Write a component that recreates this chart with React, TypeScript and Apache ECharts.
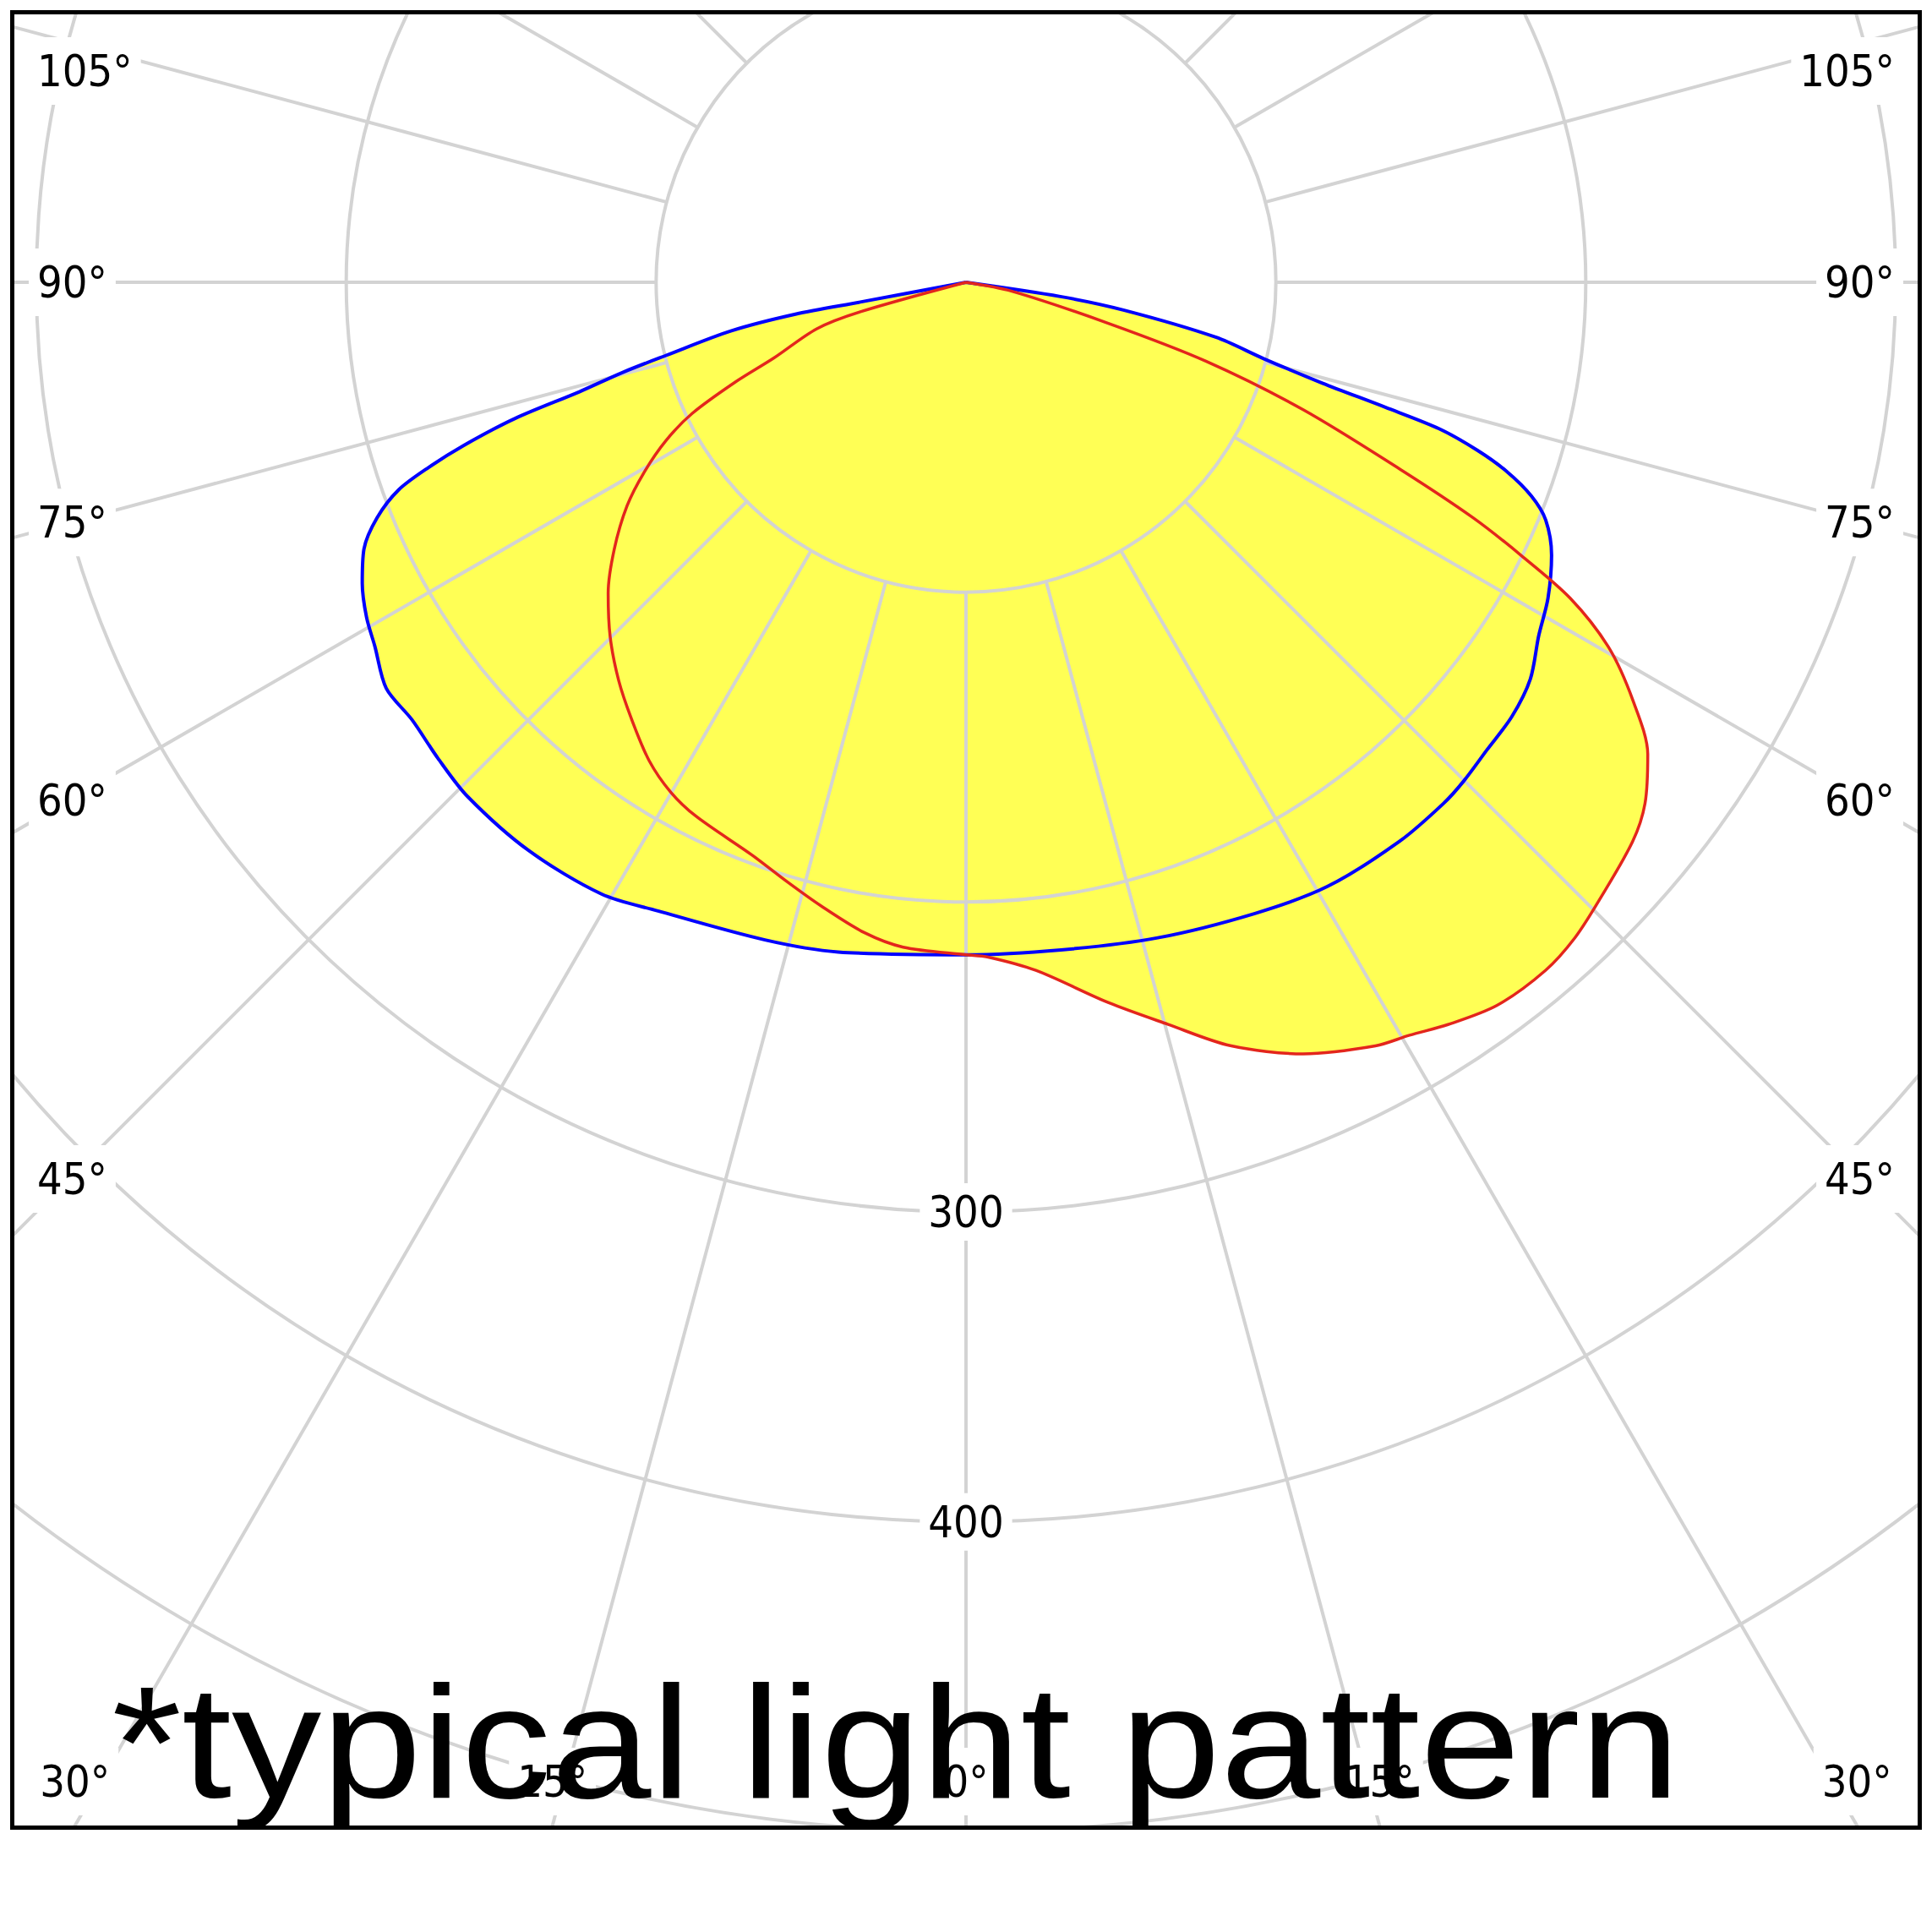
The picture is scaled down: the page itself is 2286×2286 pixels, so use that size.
import React, { useEffect, useRef } from "react";
import * as echarts from "echarts";

// ---------------- data ----------------
// luminous intensity rings (cd) and which of them carry a label
const ringValues = [100, 200, 300, 400, 500, 600];
const ringLabelValues = [300, 400];
// angle labels (degrees from nadir) placed on the frame
const sideAngleTicks = [45, 60, 75, 90, 105];
const bottomAngleTicks = [-30, -15, 0, 15, 30];

// blue curve (C0-C180 plane): angle from nadir (negative = left), intensity
const blueAngles = [
  -79.4, -79.4, -79.4, -78.3, -76.3, -75.3, -74.2, -73.2, -72.0, -71.0,
  -69.9, -68.2, -66.1, -63.5, -60.8, -58.4, -55.0, -51.7, -48.0, -44.1,
  -37.6, -30.8, -26.1, -17.0, -10.8, 0, 8.1, 16.3, 24.6, 30.9,
  37.8, 42.5, 44.9, 48.1, 51.5, 54.9, 58.3, 61.5, 65.0, 67.7,
  69.3, 70.7, 71.8, 72.8, 73.4, 74.2, 75.6, 77.6, 80.0, 81.4, 81.4,
];
const blueValues = [
  0, 34.7, 56.0, 77.5, 99.6, 114.5, 129.5, 152.0, 170.5, 183.3,
  195.0, 204.7, 212.5, 217.7, 221.6, 224.0, 228.4, 227.8, 229.4, 231.1,
  231.4, 229.8, 225.9, 221.9, 220.0, 217.0, 217.6, 220.4, 224.0, 227.2,
  228.3, 228.1, 227.4, 225.9, 225.1, 222.6, 217.2, 213.7, 208.5, 202.2,
  195.0, 185.0, 173.8, 159.8, 141.2, 119.5, 99.3, 82.5, 51.6, 30.8, 0,
];

// red curve (C90-C270 plane)
const redAngles = [
  -74.4, -74.4, -72.7, -68.5, -66.6, -64.4, -62.2, -59.5, -56.6, -52.8,
  -49.0, -45.1, -41.1, -37.4, -33.5, -30.1, -26.8, -20.5, -16.6, -13.1,
  -8.9, -5.4, 0, 1.8, 5.8, 11.2, 15.2, 19.1, 23.6, 28.2,
  30.5, 33.0, 36.3, 40.1, 42.9, 45.7, 50.0, 52.5, 55.3, 57.9,
  60.4, 62.4, 63.8, 65.1, 66.7, 69.3, 71.8, 73.9, 79.0, 79.0,
];
const redValues = [
  0, 35.4, 50.4, 66.6, 81.2, 98.0, 109.4, 120.4, 131.0, 142.5,
  153.0, 162.1, 170.5, 177.6, 185.2, 190.1, 193.1, 197.3, 201.9, 206.6,
  212.4, 215.5, 217.0, 217.8, 223.2, 237.0, 248.1, 260.7, 271.7, 279.6,
  282.0, 285.6, 289.5, 290.3, 288.7, 285.5, 280.8, 276.2, 267.6, 254.1,
  238.5, 220.0, 199.7, 180.3, 152.5, 116.3, 81.5, 48.0, 15.1, 0,
];

const noteText = "*typical light pattern";

// ---------------- layout / style ----------------
const FRAME = { left: 12, top: 12, border: 5, width: 2252, height: 2143 };
const CENTER = [1126, 317];
const PX_PER_CD = 3.6667;
const ANGLE_STEP = 15;
const GRID_COLOR = "#d3d3d3";
const GRID_WIDTH = 4;
const YELLOW = "#ffff55";
const BLUE = "#0000ff";
const RED = "#e3261c";
const LABEL_FONT = "'DejaVu Sans Condensed', 'DejaVu Sans', sans-serif";
const LABEL_SIZE = 52;
const SIDE_LABEL_INSET = 27; // text edge distance from frame side
const SIDE_LABEL_PROBE = 65; // x where the spoke height is read
const LABEL_MIN_Y = 67;
const BOTTOM_LABEL_Y = 2091;
const NOTE_FONT = "189px 'Liberation Sans', Arial, sans-serif";
const NOTE_POS = [1043, 2044.5];
const NOTE_SCALE_X = 1.125;
const SMOOTH = 0.3;

const toAxisAngle = (g: number) => (g < 0 ? 360 + g : g);
const rad = (d: number) => (d * Math.PI) / 180;

export default function App() {
  const ref = useRef<HTMLDivElement>(null);

  useEffect(() => {
    if (!ref.current) return;
    const chart = echarts.init(ref.current, undefined, { renderer: "svg" });

    const maxRing = ringValues[ringValues.length - 1];
    const outerPx = maxRing * PX_PER_CD;
    const innerPx = ringValues[0] * PX_PER_CD;
    const [cx, cy] = CENTER;

    const blueData = blueAngles.map((g, i) => [blueValues[i], toAxisAngle(g)]);
    const redData = redAngles.map((g, i) => [redValues[i], toAxisAngle(g)]);

    const labelStyle = (text: string, align: string) => ({
      text,
      font: `${LABEL_SIZE}px ${LABEL_FONT}`,
      fill: "#000",
      align,
      verticalAlign: "middle",
      backgroundColor: "#fff",
      padding: [14, 10],
    });

    const graphics: any[] = [];
    // side labels: on the spoke, near the left/right frame
    sideAngleTicks.forEach((g) => {
      const dx = cx - SIDE_LABEL_PROBE;
      let y = g === 90 ? cy : cy + dx / Math.tan(rad(g));
      y = Math.max(y, LABEL_MIN_Y);
      graphics.push({
        type: "text",
        z: 5,
        x: SIDE_LABEL_INSET - 10,
        y,
        style: labelStyle(`${g}°`, "left"),
      });
      graphics.push({
        type: "text",
        z: 5,
        x: FRAME.width - SIDE_LABEL_INSET + 10,
        y,
        style: labelStyle(`${g}°`, "right"),
      });
    });
    // bottom labels: where the spokes meet the bottom of the frame
    bottomAngleTicks.forEach((g) => {
      const x = cx + (FRAME.height - cy) * Math.tan(rad(g));
      graphics.push({
        type: "text",
        z: 5,
        x,
        y: BOTTOM_LABEL_Y,
        style: labelStyle(`${Math.abs(g)}°`, "center"),
      });
    });
    // the note
    graphics.push({
      type: "text",
      z: 10,
      x: NOTE_POS[0],
      y: NOTE_POS[1],
      scaleX: NOTE_SCALE_X,
      style: {
        text: noteText,
        font: NOTE_FONT,
        fill: "#000",
        align: "center",
        verticalAlign: "middle",
      },
    });

    const gridLine = { show: true, lineStyle: { color: GRID_COLOR, width: GRID_WIDTH } };

    const fillSeries = (data: number[][]) => ({
      type: "line",
      coordinateSystem: "polar",
      polarIndex: 0,
      data,
      smooth: SMOOTH,
      symbol: "none",
      silent: true,
      clip: false,
      lineStyle: { width: 0, opacity: 0 },
      areaStyle: { color: YELLOW, opacity: 1 },
      z: 1,
    });
    const strokeSeries = (data: number[][], color: string, width: number) => ({
      type: "line",
      coordinateSystem: "polar",
      polarIndex: 0,
      data,
      smooth: SMOOTH,
      symbol: "none",
      silent: true,
      clip: false,
      lineStyle: { color, width },
      z: 3,
    });

    const option: any = {
      animation: false,
      backgroundColor: "#fff",
      polar: [
        { center: CENTER, radius: [0, outerPx] },
        { center: CENTER, radius: [innerPx, outerPx] },
      ],
      angleAxis: [
        {
          polarIndex: 0,
          type: "value",
          min: 0,
          max: 360,
          startAngle: 270,
          clockwise: false,
          show: false,
        },
        {
          polarIndex: 1,
          type: "value",
          min: 0,
          max: 360,
          interval: ANGLE_STEP,
          startAngle: 270,
          clockwise: false,
          z: 2,
          axisLine: { show: false },
          axisTick: { show: false },
          axisLabel: { show: false },
          splitLine: gridLine,
          splitArea: { show: false },
        },
      ],
      radiusAxis: [
        { polarIndex: 0, type: "value", min: 0, max: maxRing, show: false },
        {
          polarIndex: 1,
          type: "value",
          min: ringValues[0],
          max: maxRing,
          interval: ringValues[1] - ringValues[0],
          z: 2,
          axisLine: { show: false },
          axisTick: { show: false },
          splitLine: gridLine,
          splitArea: { show: false },
          axisLabel: {
            show: true,
            margin: 0,
            align: "center",
            verticalAlign: "middle",
            formatter: (v: number) =>
              ringLabelValues.indexOf(v) >= 0 ? `{b|${v}}` : "",
            rich: {
              b: {
                fontFamily: LABEL_FONT,
                fontSize: LABEL_SIZE,
                color: "#000",
                backgroundColor: "#fff",
                padding: [8, 10],
              },
            },
          },
        },
      ],
      series: [
        fillSeries(blueData),
        fillSeries(redData),
        strokeSeries(blueData, BLUE, 4),
        strokeSeries(redData, RED, 3.5),
      ],
      graphic: { elements: graphics },
    };

    chart.setOption(option);
    return () => chart.dispose();
  }, []);

  return (
    <div
      style={{
        position: "absolute",
        left: FRAME.left,
        top: FRAME.top,
        width: FRAME.width,
        height: FRAME.height,
        border: `${FRAME.border}px solid #000`,
        overflow: "hidden",
        background: "#fff",
      }}
    >
      <div ref={ref} style={{ width: FRAME.width, height: FRAME.height }} />
    </div>
  );
}
